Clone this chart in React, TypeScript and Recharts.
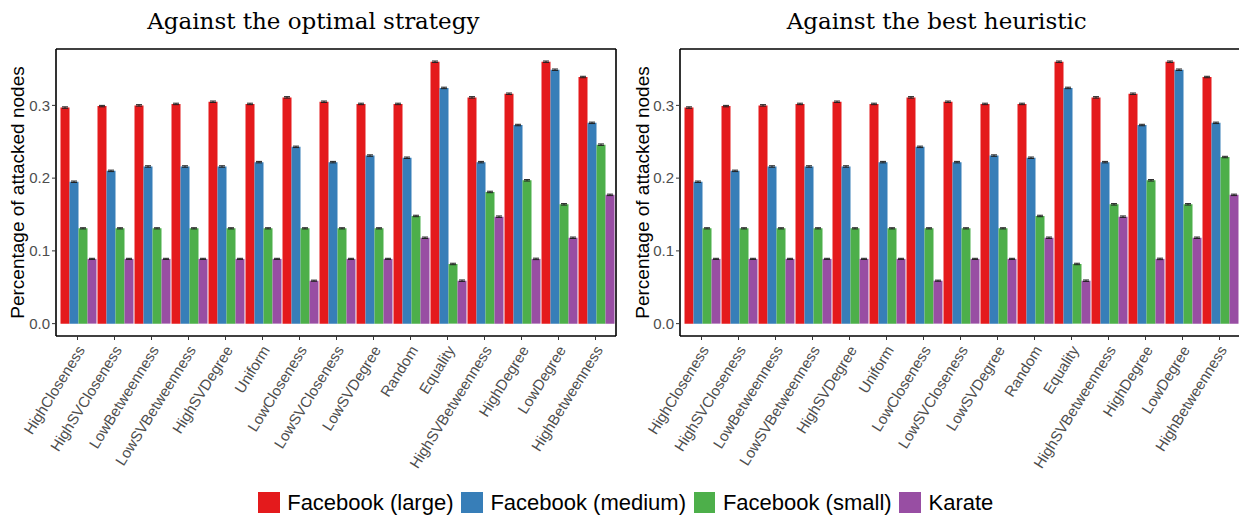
import React from 'react';
import { BarChart, Bar, XAxis, YAxis, CartesianGrid, ErrorBar } from 'recharts';

const categories = [
  'HighCloseness', 'HighSVCloseness', 'LowBetweenness', 'LowSVBetweenness', 'HighSVDegree',
  'Uniform', 'LowCloseness', 'LowSVCloseness', 'LowSVDegree', 'Random',
  'Equality', 'HighSVBetweenness', 'HighDegree', 'LowDegree', 'HighBetweenness',
];

const seriesKeys = ['large', 'medium', 'small', 'karate'];
const seriesNames = ['Facebook (large)', 'Facebook (medium)', 'Facebook (small)', 'Karate'];
const seriesColors = ['#E41A1C', '#377EB8', '#4DAF4A', '#984EA3'];

// Against the optimal strategy
const optimalLarge = [0.297, 0.299, 0.300, 0.302, 0.305, 0.302, 0.311, 0.305, 0.302, 0.302, 0.360, 0.311, 0.316, 0.360, 0.339];
const optimalMedium = [0.195, 0.210, 0.216, 0.216, 0.216, 0.222, 0.243, 0.222, 0.231, 0.228, 0.324, 0.222, 0.273, 0.349, 0.276];
const optimalSmall = [0.131, 0.131, 0.131, 0.131, 0.131, 0.131, 0.131, 0.131, 0.131, 0.148, 0.082, 0.181, 0.197, 0.164, 0.246];
const optimalKarate = [0.089, 0.089, 0.089, 0.089, 0.089, 0.089, 0.059, 0.089, 0.089, 0.118, 0.059, 0.147, 0.089, 0.118, 0.177];

// Against the best heuristic
const heuristicLarge = [0.297, 0.299, 0.300, 0.302, 0.305, 0.302, 0.311, 0.305, 0.302, 0.302, 0.360, 0.311, 0.316, 0.360, 0.339];
const heuristicMedium = [0.195, 0.210, 0.216, 0.216, 0.216, 0.222, 0.243, 0.222, 0.231, 0.228, 0.324, 0.222, 0.273, 0.349, 0.276];
const heuristicSmall = [0.131, 0.131, 0.131, 0.131, 0.131, 0.131, 0.131, 0.131, 0.131, 0.148, 0.082, 0.164, 0.197, 0.164, 0.229];
const heuristicKarate = [0.089, 0.089, 0.089, 0.089, 0.089, 0.089, 0.059, 0.089, 0.089, 0.118, 0.059, 0.147, 0.089, 0.118, 0.177];

// Small error (standard error) values
const errLarge = [0.001, 0.001, 0.001, 0.001, 0.001, 0.001, 0.001, 0.001, 0.001, 0.001, 0.001, 0.001, 0.001, 0.001, 0.001];
const errMedium = [0.001, 0.001, 0.001, 0.001, 0.001, 0.001, 0.001, 0.001, 0.001, 0.001, 0.001, 0.001, 0.001, 0.001, 0.001];
const errSmall = [0.0008, 0.0008, 0.0008, 0.0008, 0.0008, 0.0008, 0.0008, 0.0008, 0.0008, 0.001, 0.001, 0.001, 0.001, 0.001, 0.001];
const errKarate = [0.0008, 0.0008, 0.0008, 0.0008, 0.0008, 0.0008, 0.0008, 0.0008, 0.0008, 0.001, 0.001, 0.001, 0.001, 0.001, 0.001];

const yTicks = [0, 0.1, 0.2, 0.3];
const yDomain: [number, number] = [-0.017, 0.3775];

const titles = ['Against the optimal strategy', 'Against the best heuristic'];
const yLabel = 'Percentage of attacked nodes';

const SANS = '"Liberation Sans", Arial, Helvetica, sans-serif';
const SERIF = '"DejaVu Serif", serif';

function buildData(large: number[], medium: number[], small: number[], karate: number[]) {
  return categories.map((name, i) => ({
    name,
    large: large[i],
    medium: medium[i],
    small: small[i],
    karate: karate[i],
    largeErr: errLarge[i],
    mediumErr: errMedium[i],
    smallErr: errSmall[i],
    karateErr: errKarate[i],
  }));
}

const optimalData = buildData(optimalLarge, optimalMedium, optimalSmall, optimalKarate);
const heuristicData = buildData(heuristicLarge, heuristicMedium, heuristicSmall, heuristicKarate);

const RotTick = (props: any) => {
  const { x, y, payload } = props;
  return (
    <text
      x={0}
      y={0}
      textAnchor="end"
      fontSize={15}
      fontFamily={SANS}
      fill="#4D4D4D"
      transform={`translate(${x + 8},${y + 8}) rotate(-58)`}
    >
      {payload.value}
    </text>
  );
};

function Panel({ data, marginLeft, width }: { data: any[]; marginLeft: number; width: number }) {
  return (
    <BarChart
      width={width}
      height={480}
      data={data}
      margin={{ top: 49, right: 4, bottom: 14, left: marginLeft }}
      barCategoryGap={1.5}
      barGap={0}
    >
      <CartesianGrid
        stroke="#000"
        strokeWidth={1.6}
        fill="none"
        horizontalCoordinatesGenerator={(p: any) => [p.offset.top, p.offset.top + p.offset.height]}
        verticalCoordinatesGenerator={(p: any) => [p.offset.left, p.offset.left + p.offset.width]}
      />
      <XAxis
        dataKey="name"
        type="category"
        interval={0}
        height={130}
        padding={{ left: 3, right: 2 }}
        axisLine={false}
        tickLine={{ stroke: '#333', strokeWidth: 1 }}
        tickSize={4}
        tickMargin={2}
        tick={<RotTick />}
      />
      <YAxis
        type="number"
        domain={yDomain}
        allowDataOverflow
        ticks={yTicks}
        tickFormatter={(v: number) => v.toFixed(1)}
        width={46}
        axisLine={false}
        tickLine={{ stroke: '#333', strokeWidth: 1 }}
        tickSize={4}
        tickMargin={2}
        tick={{ fill: '#4D4D4D', fontSize: 15, fontFamily: SANS }}
      />
      {seriesKeys.map((k, i) => (
        <Bar key={k} dataKey={k} name={seriesNames[i]} fill={seriesColors[i]} isAnimationActive={false}>
          <ErrorBar
            dataKey={`${k}Err`}
            width={3}
            stroke="#222"
            strokeWidth={1}
            direction="y"
            isAnimationActive={false}
          />
        </Bar>
      ))}
    </BarChart>
  );
}

export default function App() {
  return (
    <div
      style={{
        position: 'absolute',
        left: 0,
        top: 0,
        width: 1239,
        height: 519,
        overflow: 'hidden',
        background: '#fff',
      }}
    >
      <div style={{ position: 'absolute', left: 0, top: 0 }}>
        <Panel data={optimalData} marginLeft={10} width={620} />
      </div>
      <div style={{ position: 'absolute', left: 620, top: 0 }}>
        <Panel data={heuristicData} marginLeft={14} width={624} />
      </div>
      <svg
        width={1239}
        height={519}
        style={{ position: 'absolute', left: 0, top: 0, pointerEvents: 'none' }}
      >
        <text x={313.3} y={29.3} textAnchor="middle" fontFamily={SERIF} fontSize={23} fill="#000">
          {titles[0]}
        </text>
        <text x={936.7} y={29.3} textAnchor="middle" fontFamily={SERIF} fontSize={23} fill="#000">
          {titles[1]}
        </text>
        <text
          transform="translate(23.5,192.5) rotate(-90)"
          textAnchor="middle"
          fontFamily={SANS}
          fontSize={19}
          fill="#000"
        >
          {yLabel}
        </text>
        <text
          transform="translate(648.5,192.5) rotate(-90)"
          textAnchor="middle"
          fontFamily={SANS}
          fontSize={19}
          fill="#000"
        >
          {yLabel}
        </text>
      </svg>
      <div
        style={{
          position: 'absolute',
          left: 258,
          top: 490,
          height: 25,
          display: 'flex',
          alignItems: 'center',
          fontFamily: SANS,
          fontSize: 22,
          lineHeight: '25px',
          color: '#000',
          whiteSpace: 'nowrap',
        }}
      >
        {seriesNames.map((n, i) => (
          <div key={n} style={{ display: 'flex', alignItems: 'center', marginRight: 7.7 }}>
            <div style={{ width: 21.7, height: 21, background: seriesColors[i], marginRight: 7.5 }} />
            <span>{n}</span>
          </div>
        ))}
      </div>
    </div>
  );
}
